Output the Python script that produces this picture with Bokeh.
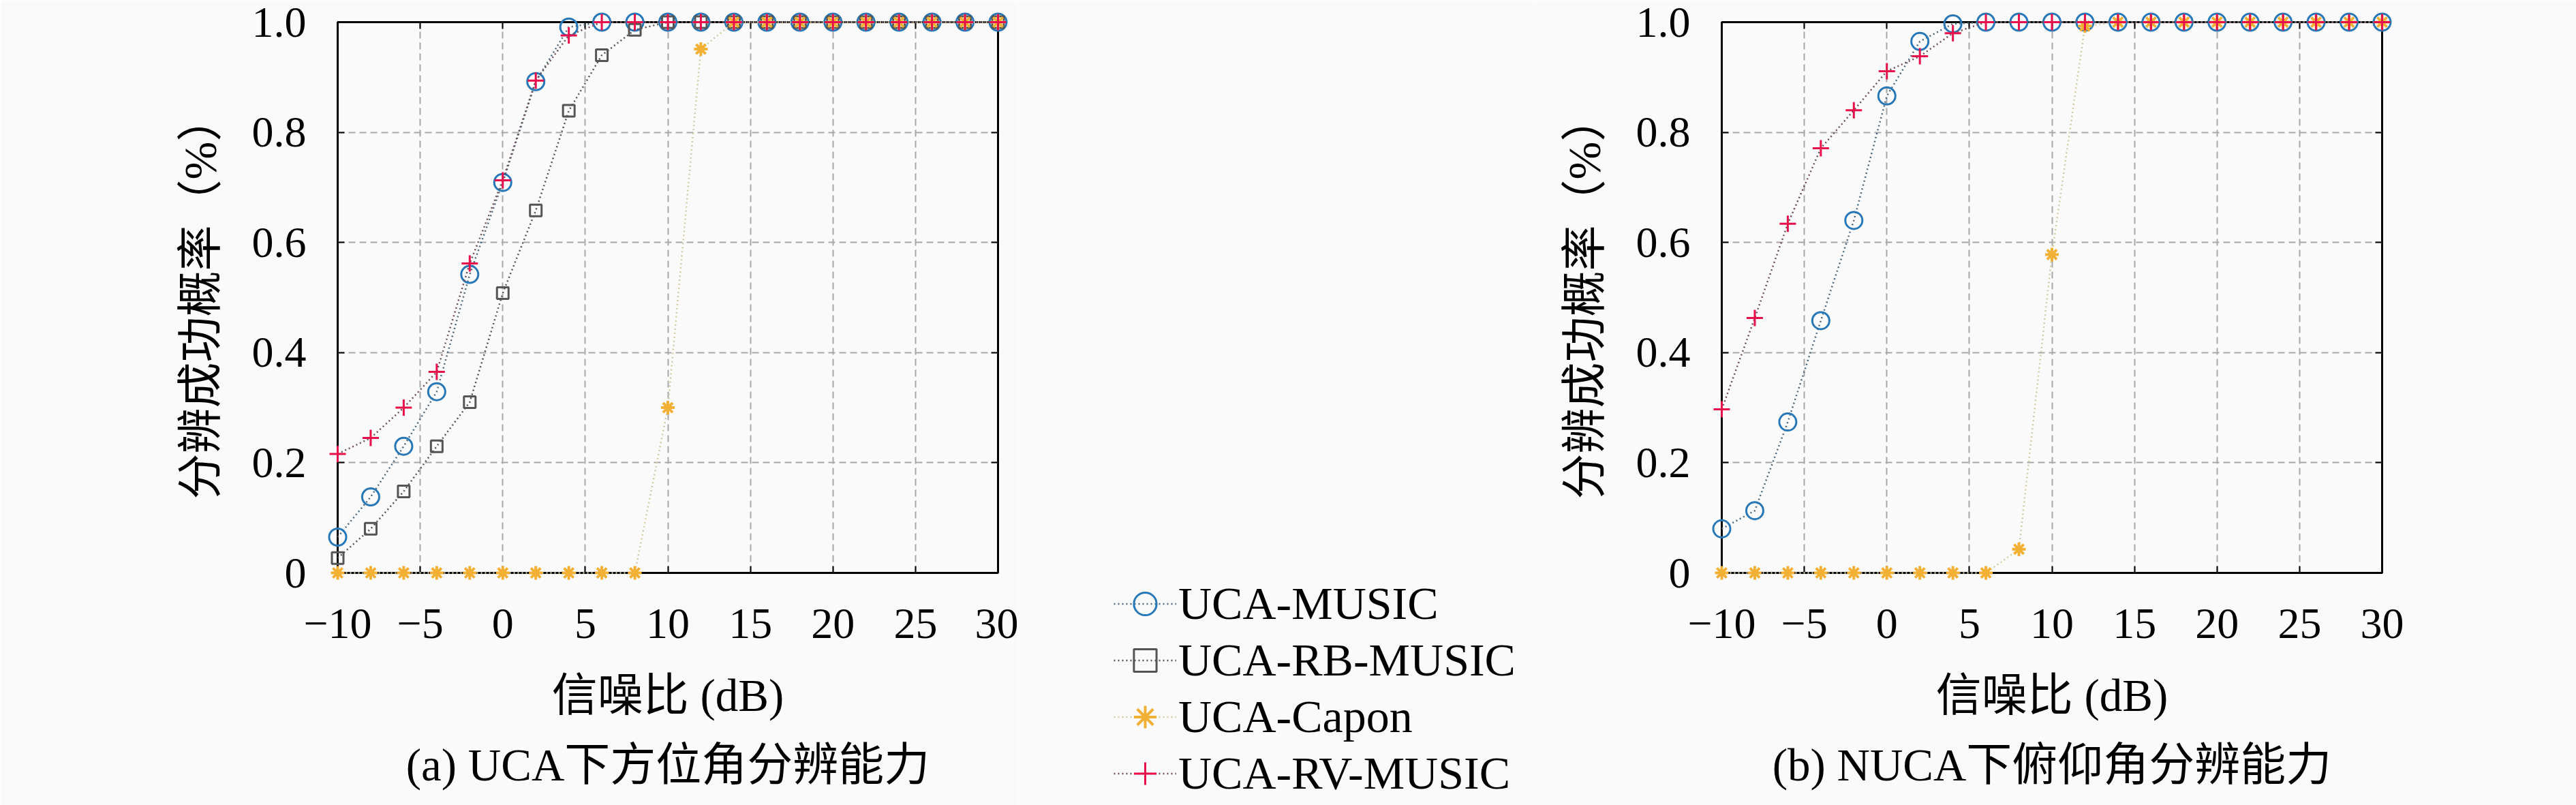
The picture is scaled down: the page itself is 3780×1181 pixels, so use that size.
import math
from bokeh.plotting import figure
from bokeh.models import (LinearAxis, FixedTicker, CustomJSTickFormatter, Legend,
                          LegendItem, Title)
from bokeh.layouts import row
from bokeh.embed import file_html
from bokeh.resources import INLINE

# ---------------- data ----------------
snr = [-10, -8, -6, -4, -2, 0, 2, 4, 6, 8, 10, 12, 14, 16, 18, 20, 22, 24, 26, 28, 30]

a_music = [0.065, 0.138, 0.230, 0.329, 0.542, 0.709, 0.892, 0.991] + [1.0] * 13
a_rb_music = [0.027, 0.080, 0.148, 0.230, 0.310, 0.508, 0.658, 0.839, 0.940, 0.986] + [1.0] * 11
a_capon = [0.0] * 10 + [0.300, 0.951] + [1.0] * 9
a_rv_music = [0.216, 0.245, 0.300, 0.365, 0.562, 0.713, 0.894, 0.976] + [1.0] * 13

b_music = [0.080, 0.113, 0.274, 0.458, 0.640, 0.866, 0.965, 0.997] + [1.0] * 13
b_capon = [0.0] * 9 + [0.043, 0.578, 0.993] + [1.0] * 9
b_rv_music = [0.297, 0.463, 0.634, 0.771, 0.840, 0.911, 0.938, 0.980] + [1.0] * 13

x_ticks = [-10, -5, 0, 5, 10, 15, 20, 25, 30]
y_ticks = [0, 0.2, 0.4, 0.6, 0.8, 1.0]

series_names = ["UCA-MUSIC", "UCA-RB-MUSIC", "UCA-Capon", "UCA-RV-MUSIC"]
x_label = "信噪比 (dB)"
y_label = "分辨成功概率（%）"
caption_a = "(a) UCA下方位角分辨能力"
caption_b = "(b) NUCA下俯仰角分辨能力"

# ---------------- style ----------------
FONT = "'Liberation Serif', 'Noto Sans CJK SC'"
BG = "#fafafa"
W, H = 3780, 1181
TOP, FH, FW = 32, 808, 969
BOTTOM = H - TOP - FH
STYLES = {
    "UCA-MUSIC": dict(marker="circle", size=25, color="#2878b8", line="#50687c", lw=3),
    "UCA-RB-MUSIC": dict(marker="square", size=17, color="#555555", line="#555555", lw=3),
    "UCA-Capon": dict(marker="asterisk", size=20, color="#f2b035", line="#d2cca6", lw=4),
    "UCA-RV-MUSIC": dict(marker="cross", size=24, color="#e8104a", line="#6e5058", lw=3),
}

xfmt = CustomJSTickFormatter(code="return tick < 0 ? '\\u2212' + Math.abs(tick) : String(tick);")
yfmt = CustomJSTickFormatter(code="return tick == 0 ? '0' : tick.toFixed(1);")


def add_series(p, name, xs, vals, level="overlay"):
    st = STYLES[name]
    lr = p.line(xs, vals, line_color=st["line"], line_width=2.5, line_dash="2 4")
    sr = p.scatter(xs, vals, marker=st["marker"], size=st["size"],
                   line_color=st["color"], fill_color=None, line_width=st["lw"])
    lr.level = level
    sr.level = level
    return lr, sr


def make_fig(series, caption, border_left, border_right):
    p = figure(frame_width=FW, frame_height=FH,
               x_range=(-10, 30), y_range=(0, 1),
               output_backend="svg", toolbar_location=None,
               min_border_left=border_left, min_border_right=border_right,
               min_border_top=TOP, min_border_bottom=BOTTOM,
               background_fill_color=BG, border_fill_color=BG,
               x_axis_label=x_label, y_axis_label=y_label)
    p.outline_line_color = "black"
    p.outline_line_width = 3

    for g in (p.xgrid, p.ygrid):
        g.grid_line_color = "#a8a8a8"
        g.grid_line_width = 2
        g.grid_line_dash = "10 6"
    p.xgrid.ticker = FixedTicker(ticks=x_ticks)
    p.ygrid.ticker = FixedTicker(ticks=y_ticks)

    for ax, tk, fmt in ((p.xaxis[0], x_ticks, xfmt), (p.yaxis[0], y_ticks, yfmt)):
        ax.ticker = FixedTicker(ticks=tk)
        ax.formatter = fmt
        ax.axis_line_color = None
        ax.major_tick_in = 10
        ax.major_tick_out = 0
        ax.major_tick_line_width = 2
        ax.major_tick_line_color = "black"
        ax.minor_tick_line_color = None
        ax.major_label_text_font = "Liberation Serif"
        ax.major_label_text_font_size = "64px"
        ax.major_label_text_color = "black"
        ax.axis_label_text_font = FONT
        ax.axis_label_text_font_size = "67px"
        ax.axis_label_text_font_style = "normal"
        ax.axis_label_text_color = "black"
    p.xaxis[0].major_label_standoff = 53
    p.xaxis[0].axis_label_standoff = 44
    p.yaxis[0].major_label_standoff = 46
    p.yaxis[0].axis_label_standoff = 36

    for side, tk in (("above", x_ticks), ("right", y_ticks)):
        ax = LinearAxis(ticker=FixedTicker(ticks=tk), axis_line_color=None,
                        major_tick_in=10, major_tick_out=0, major_tick_line_width=2,
                        major_tick_line_color="black", minor_tick_line_color=None,
                        major_label_text_color=None, major_label_text_font_size="8px",
                        major_label_standoff=0)
        p.add_layout(ax, side)

    t = Title(text=caption, align="center", text_font=FONT, text_font_size="67px",
              text_font_style="normal", text_color="black", standoff=46)
    p.add_layout(t, "below")

    for name, vals in series:
        add_series(p, name, snr, vals)
    return p


# left panel (a)
pa = make_fig([("UCA-MUSIC", a_music), ("UCA-RB-MUSIC", a_rb_music),
               ("UCA-Capon", a_capon), ("UCA-RV-MUSIC", a_rv_music)],
              caption_a, 495, 30)
wa = 495 + FW + 30

# middle: legend only (legend sits in the panel below an empty frame)
LEG_MARGIN = 4
LEG_LEFT, LEG_RIGHT = 1634, 2250
pm = figure(frame_width=LEG_RIGHT - (LEG_LEFT - LEG_MARGIN), frame_height=FH,
            x_axis_type=None, y_axis_type=None, x_range=(0, 1), y_range=(0, 1),
            output_backend="svg", toolbar_location=None,
            min_border_left=LEG_LEFT - LEG_MARGIN - wa, min_border_right=0,
            min_border_top=TOP, min_border_bottom=BOTTOM,
            background_fill_color=BG, border_fill_color=BG)
pm.outline_line_color = None
pm.xgrid.visible = False
pm.ygrid.visible = False
items = []
for name in series_names:
    lr, sr = add_series(pm, name, [math.nan], [math.nan], level="glyph")
    items.append(LegendItem(label=name, renderers=[lr, sr]))
leg = Legend(items=items, location="top_left", orientation="vertical",
             label_text_font="Liberation Serif", label_text_font_size="68px",
             label_text_color="black", glyph_width=92, glyph_height=83,
             label_height=83, label_standoff=3, spacing=0, padding=0,
             margin=LEG_MARGIN, background_fill_alpha=0, border_line_color=None)
pm.add_layout(leg, "below")

# right panel (b)
pb = make_fig([("UCA-MUSIC", b_music), ("UCA-Capon", b_capon),
               ("UCA-RV-MUSIC", b_rv_music)],
              caption_b, 2526 - LEG_RIGHT, W - 2526 - FW)

layout = row(pa, pm, pb)
open("out.html", "w").write(file_html(layout, INLINE))
